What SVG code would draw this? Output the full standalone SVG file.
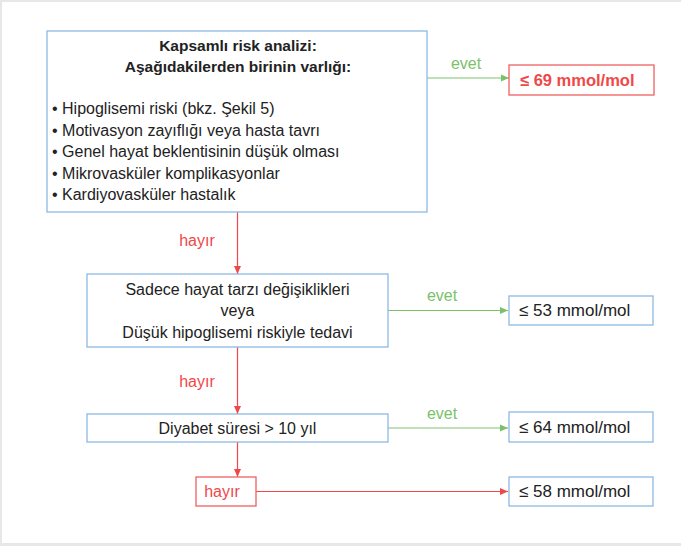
<svg xmlns="http://www.w3.org/2000/svg" width="681" height="546" viewBox="0 0 681 546">
<defs>
<style>
.bg{fill:#ffffff}
.frame{fill:#e6e7e8}
.box{fill:#ffffff;stroke:#8cb8e4;stroke-width:1.3}
.rbox{fill:#ffffff;stroke:#f06060;stroke-width:1.3}
text{font-family:"Liberation Sans",Arial,sans-serif;font-size:16px;fill:#222222}
.c{text-anchor:middle}
.b{font-weight:bold;font-size:15.5px}
.m{font-size:17px}
.red{fill:#f04848}
.grn{fill:#7cc16a}
.rl{stroke:#f04848;stroke-width:1.2;fill:none}
.gl{stroke:#7cc16a;stroke-width:1.2;fill:none}
</style>
<marker id="ar" viewBox="0 0 8 8" refX="8" refY="4" markerWidth="8" markerHeight="8" markerUnits="userSpaceOnUse" orient="auto"><path d="M0,0.5 L8,4 L0,7.5 Z" fill="#f04848"/></marker>
<marker id="ag" viewBox="0 0 8 8" refX="8" refY="4" markerWidth="8" markerHeight="8" markerUnits="userSpaceOnUse" orient="auto"><path d="M0,0.5 L8,4 L0,7.5 Z" fill="#7cc16a"/></marker>
</defs>
<rect class="bg" x="0" y="0" width="681" height="546"/>
<rect class="frame" x="0" y="0" width="681" height="2"/>
<rect class="frame" x="0" y="0" width="2" height="546"/>
<rect class="frame" x="0" y="543" width="681" height="3"/>

<g id="connectors">
<line class="gl" x1="427" y1="78" x2="509" y2="78" marker-end="url(#ag)"/>
<text class="grn" x="466" y="69" text-anchor="middle">evet</text>
<line class="rl" x1="237.5" y1="212" x2="237.5" y2="274" marker-end="url(#ar)"/>
<text class="red" x="197" y="246" text-anchor="middle">hayır</text>
<line class="gl" x1="388" y1="310.5" x2="508" y2="310.5" marker-end="url(#ag)"/>
<text class="grn" x="442" y="301" text-anchor="middle">evet</text>
<line class="rl" x1="237.5" y1="347" x2="237.5" y2="414" marker-end="url(#ar)"/>
<text class="red" x="197" y="387" text-anchor="middle">hayır</text>
<line class="gl" x1="388" y1="428" x2="508" y2="428" marker-end="url(#ag)"/>
<text class="grn" x="442" y="419" text-anchor="middle">evet</text>
<line class="rl" x1="237.5" y1="442" x2="237.5" y2="477" marker-end="url(#ar)"/>
<line class="rl" x1="256" y1="491.5" x2="508" y2="491.5" marker-end="url(#ar)"/>
</g>

<g id="risk">
<rect class="box" x="47" y="31" width="380" height="181"/>
<text class="c b" x="238" y="51">Kapsamlı risk analizi:</text>
<text class="c b" x="238" y="72">Aşağıdakilerden birinin varlığı:</text>
<text x="52" y="114">• Hipoglisemi riski (bkz. Şekil 5)</text>
<text x="52" y="136">• Motivasyon zayıflığı veya hasta tavrı</text>
<text x="52" y="157">• Genel hayat beklentisinin düşük olması</text>
<text x="52" y="179">• Mikrovasküler komplikasyonlar</text>
<text x="52" y="200">• Kardiyovasküler hastalık</text>
</g>

<g id="t69">
<rect class="rbox" x="509" y="65" width="145" height="30"/>
<text class="b red" x="520" y="86" style="font-size:16.5px">≤ 69 mmol/mol</text>
</g>

<g id="lifestyle">
<rect class="box" x="87" y="274" width="301" height="73"/>
<text class="c" x="237.5" y="295">Sadece hayat tarzı değişiklikleri</text>
<text class="c" x="237.5" y="316">veya</text>
<text class="c" x="237.5" y="338">Düşük hipoglisemi riskiyle tedavi</text>
</g>

<g id="t53">
<rect class="box" x="509" y="296" width="144" height="29"/>
<text class="m" x="519" y="316">≤ 53 mmol/mol</text>
</g>

<g id="duration">
<rect class="box" x="87" y="414" width="301" height="28"/>
<text class="c" x="237.5" y="434">Diyabet süresi &gt; 10 yıl</text>
</g>

<g id="t64">
<rect class="box" x="509" y="412" width="144" height="30"/>
<text class="m" x="519" y="433">≤ 64 mmol/mol</text>
</g>

<g id="no">
<rect class="rbox" x="196" y="477" width="60" height="29"/>
<text class="red c" x="222" y="497">hayır</text>
</g>

<g id="t58">
<rect class="box" x="509" y="477" width="144" height="29"/>
<text class="m" x="519" y="497">≤ 58 mmol/mol</text>
</g>
</svg>
